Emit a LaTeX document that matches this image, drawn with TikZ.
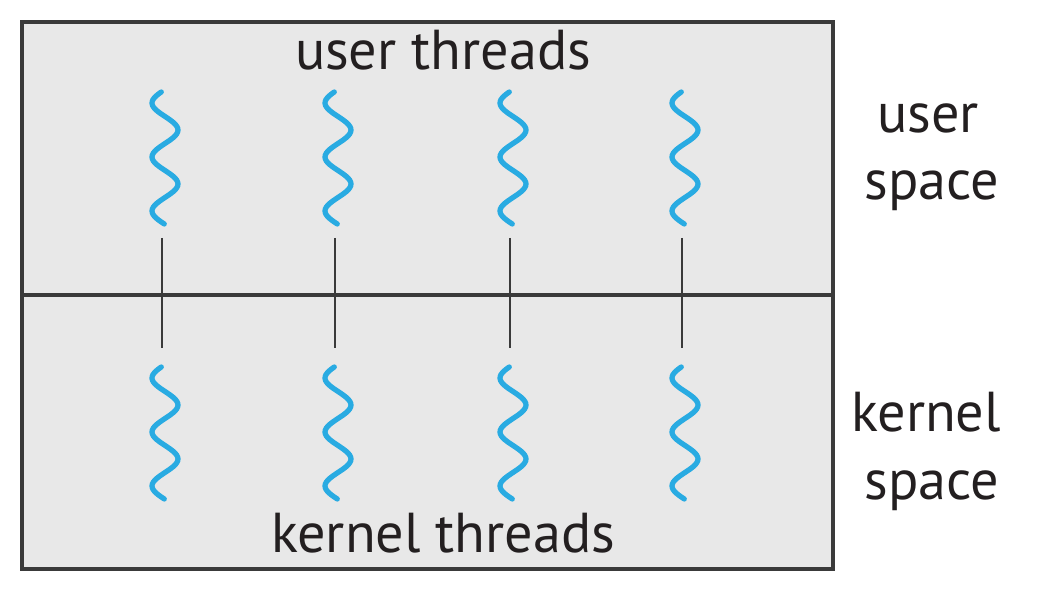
\documentclass[tikz,border=0pt]{standalone}
\usepackage{fontspec}
\setmainfont{PT Sans}
\definecolor{boxgray}{HTML}{E8E8E8}
\definecolor{threadblue}{HTML}{29ABE2}
\definecolor{linegray}{HTML}{3A3A3A}
\definecolor{textgray}{HTML}{231F20}
\tikzset{
  thread/.style={threadblue, line width=3pt, line cap=round},
  link/.style={linegray, line width=1.7pt},
  label/.style={text=textgray, inner sep=0pt, anchor=base, font=\fontsize{32}{38}\selectfont}
}
\begin{document}
\begin{tikzpicture}[x=0.02cm, y=-0.02cm]
          \useasboundingbox (0,0) rectangle (1042,590);
          \draw[linegray, line width=2pt, fill=boxgray] (22,22) rectangle (833,569);
          \coordinate (ml) at (22,295);
          \coordinate (mr) at (833,295);
          \draw[link, line width=1.9pt](ml) -- (mr);
          \foreach \px/\i in {162/1,335/2,510/3,682/4}{
            \draw[thread] plot[variable=\t, domain=0:132, samples=70, smooth]
              ({\px+3-13*cos((\t-11)*6.6667)},{92+\t});
            \draw[thread] plot[variable=\t, domain=0:132, samples=70, smooth]
              ({\px+3-13*cos((\t-11)*6.6667)},{367+\t});
            \coordinate (ut\i) at (\px,238);
            \coordinate (kt\i) at (\px,348);
            \draw[link](ut\i) -- (kt\i);
          }
          \node[label] (utl) at (443,70){user threads};
          \node[label] (ktl) at (443,553){kernel threads};
          \node[label] (usr) at (928,133){user};
          \node[label] (usp) at (932,200){space};
          \node[label] (krn) at (926,432){kernel};
          \node[label] (ksp) at (932,500){space};
        \end{tikzpicture}
\end{document}
